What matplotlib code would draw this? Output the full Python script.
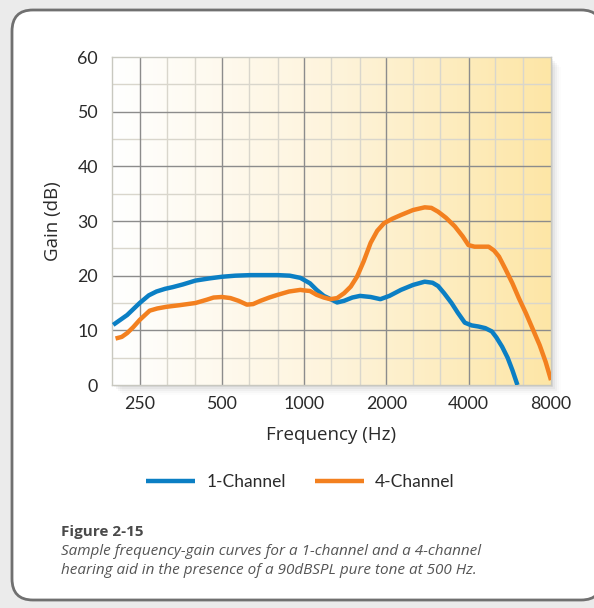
import numpy as np
import matplotlib
matplotlib.use("Agg")
import matplotlib.pyplot as plt
from matplotlib.patches import FancyBboxPatch, Rectangle
from matplotlib.colors import LinearSegmentedColormap

plt.rcParams['font.family'] = ['Lato', 'DejaVu Sans']

# values (Hz, dB)
freq_1ch = [200, 225, 250, 270, 288, 310, 330, 360, 400, 450, 500, 560, 636, 720,
            800, 885, 968, 1000, 1050, 1110, 1180, 1262, 1320, 1400, 1500, 1600,
            1750, 1900, 2050, 2260, 2500, 2760, 2950, 3090, 3250, 3460, 3650, 3870,
            4100, 4340, 4600, 4860, 5050, 5300, 5550, 5780, 6030]
gain_1ch = [11.0, 12.8, 15.0, 16.4, 17.1, 17.6, 17.9, 18.4, 19.1, 19.5, 19.8, 20.0, 20.1,
            20.1, 20.1, 20.0, 19.6, 19.2, 18.6, 17.4, 16.3, 15.6, 15.1, 15.4, 16.0, 16.3,
            16.1, 15.7, 16.3, 17.4, 18.3, 18.9, 18.7, 18.1, 16.8, 15.0, 13.2, 11.4,
            10.9, 10.7, 10.4, 9.8, 8.7, 7.0, 5.0, 2.7, 0.0]

freq_4ch = [204, 215, 225, 237, 250, 272, 290, 313, 350, 400, 440, 466, 500, 537, 575,
            617, 650, 692, 745, 800, 880, 968, 1000, 1050, 1110, 1180, 1245, 1320, 1400,
            1480, 1560, 1650, 1750, 1850, 1960, 2100, 2260, 2500, 2760, 2920, 3090, 3300,
            3560, 3800, 3990, 4200, 4500, 4730, 4950, 5160, 5450, 5780, 6100, 6480,
            6850, 7270, 7650, 8000]
gain_4ch = [8.5, 8.8, 9.5, 10.6, 11.9, 13.6, 14.0, 14.3, 14.6, 15.0, 15.6, 16.0, 16.1, 15.9,
            15.4, 14.7, 14.8, 15.4, 16.0, 16.5, 17.1, 17.4, 17.3, 17.2, 16.5, 16.0, 15.7,
            15.9, 16.8, 18.0, 19.8, 22.6, 26.0, 28.2, 29.6, 30.4, 31.1, 32.0, 32.5, 32.4,
            31.7, 30.6, 29.0, 27.2, 25.6, 25.3, 25.3, 25.3, 24.6, 23.5, 21.2, 18.6, 15.9, 13.1,
            10.3, 7.3, 4.2, 0.9]

major_x = [250, 500, 1000, 2000, 4000, 8000]
x_labels = ['250', '500', '1000', '2000', '4000', '8000']
minor_x = [315, 400, 630, 800, 1250, 1600, 2500, 3150, 5000, 6300]
y_ticks = [0, 10, 20, 30, 40, 50, 60]

fig = plt.figure(figsize=(5.94, 6.08), dpi=100)
fig.patch.set_facecolor('#ebebeb')

W, H = 594.0, 608.0
# rounded white panel
panel = FancyBboxPatch((12 / W, 8 / H), 590 / W, 590 / H,
                       boxstyle="round,pad=0,rounding_size=0.035",
                       transform=fig.transFigure, facecolor='white',
                       edgecolor='#707070', linewidth=2, zorder=0)
fig.patches.append(panel)

x0, x1, yb, yt = 112, 551, 385, 57
ax = fig.add_axes([x0 / W, 1 - yb / H, (x1 - x0) / W, (yb - yt) / H])
ax.set_zorder(2)

# soft shadow on the right/bottom of the plot
for i, a in enumerate([0.05, 0.04, 0.03, 0.02, 0.012]):
    d = 2 + i * 2
    fig.patches.append(Rectangle(((x0 + d) / W, 1 - (yb + d) / H), (x1 - x0) / W, (yb - yt) / H,
                                 transform=fig.transFigure, facecolor='black',
                                 edgecolor='none', alpha=a, zorder=1))

ax.set_xscale('log')

cmap = LinearSegmentedColormap.from_list('bg', ['#ffffff', '#fef4dc', '#fde6a6'])
grad = np.linspace(0, 1, 256).reshape(1, -1)
ax.imshow(grad, cmap=cmap, aspect='auto', extent=[0, 1, 0, 1],
          transform=ax.transAxes, zorder=0)

for f in minor_x:
    ax.axvline(f, color='#d9d6cc', linewidth=1, zorder=1)
for v in range(5, 60, 10):
    ax.axhline(v, color='#d9d6cc', linewidth=1, zorder=1)
for f in major_x[:-1]:
    ax.axvline(f, color='#8c8c8c', linewidth=1, zorder=1.5)
for v in y_ticks[1:-1]:
    ax.axhline(v, color='#8c8c8c', linewidth=1, zorder=1.5)

ax.plot(freq_1ch, gain_1ch, color='#0b7fc4', linewidth=3.2, solid_capstyle='butt',
        label='1-Channel', zorder=3)
ax.plot(freq_4ch, gain_4ch, color='#f3801f', linewidth=3.2, solid_capstyle='butt',
        label='4-Channel', zorder=3)

ax.set_xlim(198, 8000)
ax.set_ylim(0, 60)
ax.set_xticks(major_x)
ax.set_xticklabels(x_labels)
ax.xaxis.set_minor_locator(matplotlib.ticker.NullLocator())
ax.set_yticks(y_ticks)
ax.tick_params(length=0, labelsize=12.8, colors='#2a2a2a', pad=8)
ax.tick_params(axis='y', pad=10)
for s in ax.spines.values():
    s.set_color('#c8c8c0')
    s.set_linewidth(1)

ax.set_xlabel('Frequency (Hz)', fontsize=13.5, color='#2a2a2a', labelpad=10,
              family=['Open Sans', 'DejaVu Sans'])
ax.set_ylabel('Gain (dB)', fontsize=13.5, color='#2a2a2a', labelpad=11,
              family=['Open Sans', 'DejaVu Sans'])

leg = fig.legend(loc='center', bbox_to_anchor=(0.506, 1 - 482 / H), ncol=2,
                 frameon=False, fontsize=12.5, handlelength=2.8, columnspacing=1.7,
                 handletextpad=0.65)
for t in leg.get_texts():
    t.set_color('#2a2a2a')

fig.text(61 / W, 1 - 532 / H, 'Figure 2-15', fontsize=11, fontweight='bold',
         color='#4a4a4a', va='center', family=['Open Sans', 'DejaVu Sans'])
fig.text(61 / W, 1 - 561 / H,
         'Sample frequency-gain curves for a 1-channel and a 4-channel\n'
         'hearing aid in the presence of a 90dBSPL pure tone at 500 Hz.',
         fontsize=11, style='italic', color='#555555', va='center', linespacing=1.3,
         family=['Open Sans', 'DejaVu Sans'])

fig.savefig('out.png', dpi=100, facecolor=fig.get_facecolor())
